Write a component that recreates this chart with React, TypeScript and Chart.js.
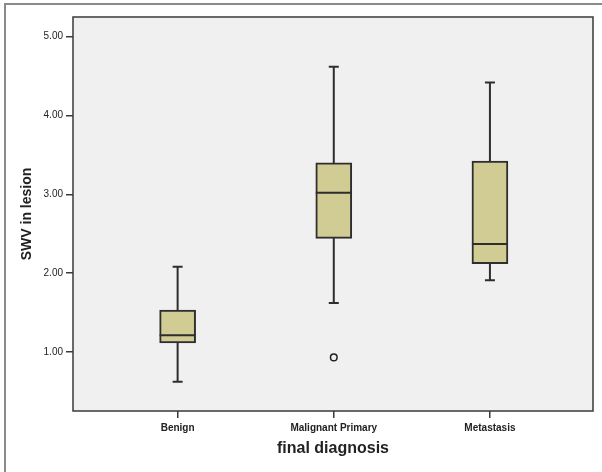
import React, { useEffect, useRef } from "react";
import { Chart, registerables } from "chart.js";

Chart.register(...registerables);

const categories = ["Benign", "Malignant Primary", "Metastasis"];
const whiskerLow = [0.62, 1.62, 1.91];
const q1 = [1.115, 2.44, 2.12];
const median = [1.21, 3.02, 2.37];
const q3 = [1.53, 3.4, 3.42];
const whiskerHigh = [2.08, 4.62, 4.42];
const outlierCategory = [1];
const outlierValue = [0.93];
const yTicks = [1, 2, 3, 4, 5];

const FONT = "'Liberation Sans', Arial, sans-serif";

const boxPlugin = {
  id: "boxExtras",
  beforeDraw(chart: any) {
    const { ctx, chartArea: a, width, height } = chart;
    ctx.save();
    ctx.fillStyle = "#ffffff";
    ctx.fillRect(0, 0, width, height);
    ctx.fillStyle = "#f0f0f0";
    ctx.fillRect(a.left, a.top, a.right - a.left, a.bottom - a.top);
    ctx.strokeStyle = "#8a8a8a";
    ctx.lineWidth = 2;
    ctx.beginPath();
    ctx.moveTo(5, height);
    ctx.lineTo(5, 4);
    ctx.lineTo(width, 4);
    ctx.stroke();
    ctx.restore();
  },
  beforeDatasetsDraw(chart: any) {
    const { ctx } = chart;
    const xs = chart.scales.x;
    const ys = chart.scales.y;
    ctx.save();
    ctx.strokeStyle = "#2e2e2e";
    ctx.lineWidth = 2;
    const cap = 5;
    categories.forEach((_, i) => {
      const x = xs.getPixelForValue(i);
      const yl = ys.getPixelForValue(whiskerLow[i]);
      const yh = ys.getPixelForValue(whiskerHigh[i]);
      ctx.beginPath();
      ctx.moveTo(x, yl);
      ctx.lineTo(x, yh);
      ctx.moveTo(x - cap, yl);
      ctx.lineTo(x + cap, yl);
      ctx.moveTo(x - cap, yh);
      ctx.lineTo(x + cap, yh);
      ctx.stroke();
    });
    ctx.restore();
  },
  afterDatasetsDraw(chart: any) {
    const { ctx } = chart;
    const meta = chart.getDatasetMeta(0);
    const ys = chart.scales.y;
    ctx.save();
    ctx.strokeStyle = "#2e2e2e";
    ctx.lineWidth = 2;
    meta.data.forEach((bar: any, i: number) => {
      const hw = bar.width / 2;
      const y = ys.getPixelForValue(median[i]);
      ctx.beginPath();
      ctx.moveTo(bar.x - hw, y);
      ctx.lineTo(bar.x + hw, y);
      ctx.stroke();
    });
    ctx.restore();
  },
  afterDraw(chart: any) {
    const { ctx, chartArea: a } = chart;
    ctx.save();
    ctx.strokeStyle = "#3a3a3a";
    ctx.lineWidth = 1.5;
    ctx.strokeRect(a.left, a.top, a.right - a.left, a.bottom - a.top);
    ctx.restore();
  },
};

export default function App() {
  const ref = useRef<HTMLCanvasElement>(null);
  useEffect(() => {
    if (!ref.current) return;
    const chart = new Chart(ref.current, {
      type: "bar",
      data: {
        datasets: [
          {
            type: "bar",
            data: categories.map((_, i) => ({ x: i, y: [q1[i], q3[i]] })) as any,
            backgroundColor: "#d1cb94",
            borderColor: "#2e2e2e",
            borderWidth: 2,
            borderSkipped: false,
            barThickness: 36,
          },
          {
            type: "scatter",
            data: outlierCategory.map((c, i) => ({ x: c, y: outlierValue[i] })) as any,
            backgroundColor: "rgba(0,0,0,0)",
            borderColor: "#222",
            borderWidth: 1.5,
            pointRadius: 3.3,
          } as any,
        ],
      },
      options: {
        responsive: false,
        animation: false,
        layout: { padding: { left: 0, top: 17, right: 9, bottom: 0 } },
        plugins: { legend: { display: false }, tooltip: { enabled: false } },
        scales: {
          x: {
            type: "linear",
            min: -0.67,
            max: 2.66,
            offset: false,
            afterBuildTicks: (s: any) => {
              s.ticks = categories.map((_, i) => ({ value: i }));
            },
            afterFit: (s: any) => {
              s.height = 61;
            },
            ticks: {
              callback: (v: any) => categories[v as number] ?? "",
              font: { family: FONT, size: 10, weight: "bold" },
              color: "#222",
              padding: 4,
              maxRotation: 0,
              autoSkip: false,
            },
            grid: {
              display: true,
              offset: false,
              drawOnChartArea: false,
              tickLength: 7,
              color: "#3a3a3a",
              lineWidth: 1.5,
            },
            border: { display: false },
            title: {
              display: true,
              text: "final diagnosis",
              font: { family: FONT, size: 16, weight: "bold" },
              color: "#222",
              padding: { top: 0, bottom: 14 },
            },
          },
          y: {
            type: "linear",
            min: 0.25,
            max: 5.25,
            afterBuildTicks: (s: any) => {
              s.ticks = yTicks.map((v) => ({ value: v }));
            },
            afterFit: (s: any) => {
              s.width = 73;
            },
            ticks: {
              callback: (v: any) => Number(v).toFixed(2),
              font: { family: FONT, size: 10 },
              color: "#222",
              padding: 3,
            },
            grid: { display: true, drawOnChartArea: false, tickLength: 7, color: "#3a3a3a", lineWidth: 1.5 },
            border: { display: false },
            title: {
              display: true,
              text: "SWV in lesion",
              font: { family: FONT, size: 14, weight: "bold" },
              color: "#222",
              padding: { top: 19, bottom: 0 },
            },
          },
        },
      },
      plugins: [boxPlugin],
    });
    return () => chart.destroy();
  }, []);
  return (
    <div style={{ position: "fixed", left: 0, top: 0, width: 602, height: 472, background: "#fff" }}>
      <canvas ref={ref} width={602} height={472} />
    </div>
  );
}
